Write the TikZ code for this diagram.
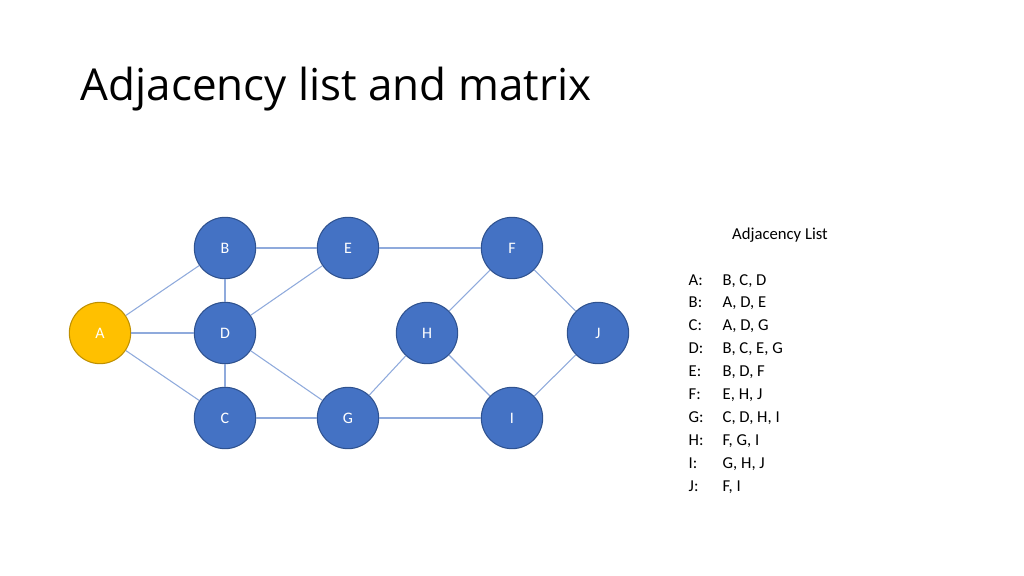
\documentclass[tikz,border=0pt]{standalone}
\usepackage{fontspec}
\setmainfont{Carlito}
\newfontfamily\titlefont{Open Sans}
\begin{document}
\begin{tikzpicture}[x=0.75pt,y=-0.75pt,
  v/.style={circle,minimum size=46pt,inner sep=0pt,fill={rgb,255:red,68;green,114;blue,196},draw={rgb,255:red,47;green,82;blue,143},line width=0.8pt,text=white,font=\fontsize{12}{14}\selectfont},
  e/.style={draw={rgb,255:red,143;green,170;blue,220},line width=0.8pt},
  lt/.style={anchor=base west,font=\fontsize{12.5}{15}\selectfont}]
\useasboundingbox (0,0) rectangle (1024,575);
\node[anchor=base west,font=\titlefont\fontsize{33}{40}\selectfont] (title) at (76,100) {Adjacency list and matrix};
\node[v,fill={rgb,255:red,255;green,192;blue,0},draw={rgb,255:red,191;green,144;blue,0}] (A) at (100,333) {A};
\node[v] (B) at (225,248) {B};
\node[v] (E) at (348,248) {E};
\node[v] (F) at (512,248) {F};
\node[v] (D) at (225,333) {D};
\node[v] (H) at (427,333) {H};
\node[v] (J) at (598,333) {J};
\node[v] (C) at (225,418) {C};
\node[v] (G) at (348,418) {G};
\node[v] (I) at (512,418) {I};
\draw[e] (A)--(B); \draw[e,line width=1.5pt] (A)--(D); \draw[e] (A)--(C);
\draw[e] (B)--(E); \draw[e] (B)--(D); \draw[e] (D)--(C); \draw[e] (D)--(E);
\draw[e] (D)--(G); \draw[e] (E)--(F); \draw[e] (C)--(G); \draw[e] (G)--(H);
\draw[e] (G)--(I); \draw[e] (H)--(F); \draw[e] (H)--(I); \draw[e] (F)--(J); \draw[e] (I)--(J);
\node[anchor=base,font=\fontsize{12.5}{15}\selectfont] (lh) at (780,239) {Adjacency List};
\foreach \k/\a/\b in {0/A:/{B, C, D},1/B:/{A, D, E},2/C:/{A, D, G},3/D:/{B, C, E, G},4/E:/{B, D, F},5/F:/{E, H, J},6/G:/{C, D, H, I},7/H:/{F, G, I},8/I:/{G, H, J},9/J:/{F, I}}{
  \node[lt] (l\k) at (684,285+22.9*\k) {\a};
  \node[lt] (r\k) at (718,285+22.9*\k) {\b};
}
\end{tikzpicture}
\end{document}
